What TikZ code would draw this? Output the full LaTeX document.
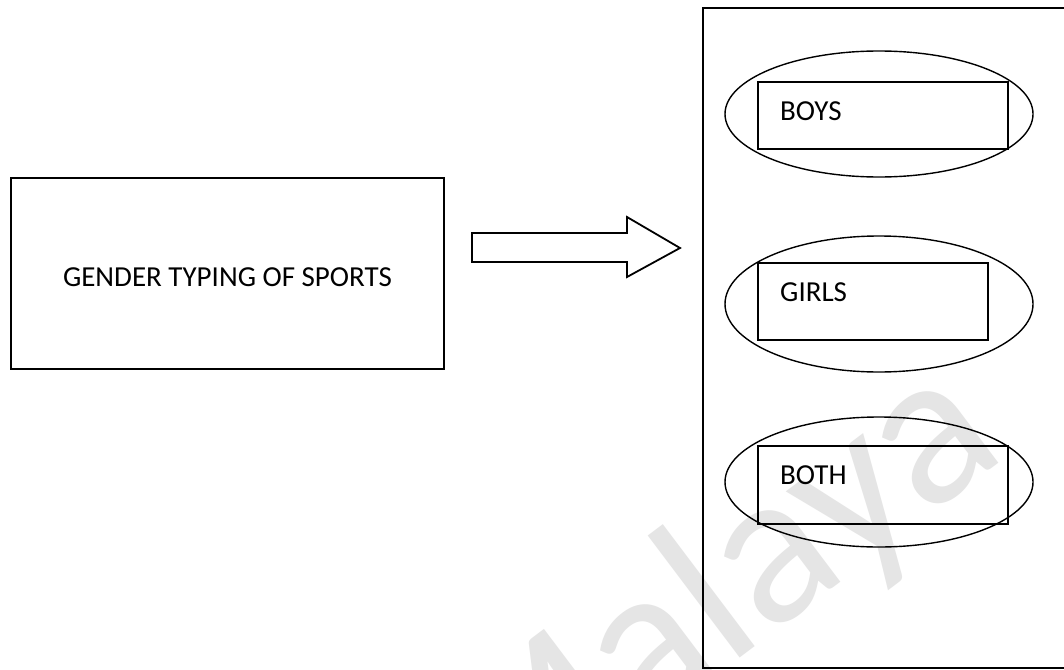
\documentclass[tikz,border=0pt]{standalone}
\usepackage{fontspec}
\setmainfont{Carlito}
\usetikzlibrary{shapes.geometric}
\begin{document}
\begin{tikzpicture}[x=1pt,y=-1pt,
  frame/.style={draw, line width=1.8pt},
  group/.style={draw, ellipse, line width=1.4pt, inner sep=0pt},
  tag/.style={draw, rectangle, line width=1.6pt, inner sep=0pt},
  word/.style={anchor=base west, inner sep=0pt, font=\fontsize{29}{34}\selectfont},
  faint/.style={text=black!10, inner sep=0pt, font=\fontsize{220}{220}\selectfont}]
\useasboundingbox (0,0) rectangle (1064,669);
\clip (0,0) rectangle (1064,669);
\fill[white] (0,0) rectangle (1064,669);

% faint background lettering
\node[faint, rotate=37, anchor=base east] (wm) at (1010,455) {Malaya};

% source box
\node[frame, rectangle, minimum width=433pt, minimum height=191pt, inner sep=0pt] (src) at (227.5,273.5) {};
\node[anchor=base, inner sep=0pt, font=\fontsize{29}{34}\selectfont] (srctext) at (227.5,286) {GENDER TYPING OF SPORTS};

% block arrow
\coordinate (a1) at (472,233);
\coordinate (a2) at (627,233);
\coordinate (a3) at (627,217);
\coordinate (a4) at (680,248);
\coordinate (a5) at (627,277);
\coordinate (a6) at (627,262);
\coordinate (a7) at (472,262);
\draw[line width=1.8pt, line join=miter] (a1) -- (a2) -- (a3) -- (a4) -- (a5) -- (a6) -- (a7) -- cycle;

% category panel
\draw[frame] (1080,8) -- (703,8) -- (703,668) -- (1080,668);

% categories
\node[group, minimum width=308pt, minimum height=126pt] (e1) at (879,114) {};
\node[tag, minimum width=250pt, minimum height=67pt] (r1) at (883,115.5) {};
\node[word] (t1) at (780,120.7) {BOYS};

\node[group, minimum width=308pt, minimum height=136pt] (e2) at (879,304) {};
\node[tag, minimum width=230pt, minimum height=77pt] (r2) at (873,301.5) {};
\node[word] (t2) at (780,301.7) {GIRLS};

\node[group, minimum width=308pt, minimum height=130pt] (e3) at (879,482) {};
\node[tag, minimum width=250pt, minimum height=78pt] (r3) at (883,485) {};
\node[word] (t3) at (780,484) {BOTH};
\end{tikzpicture}
\end{document}
